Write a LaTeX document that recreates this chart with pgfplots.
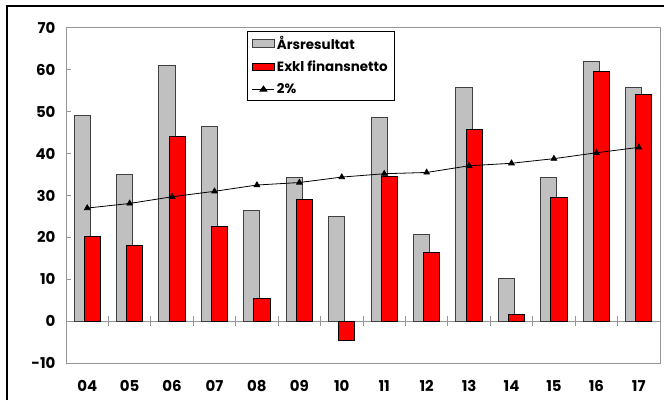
\documentclass[border=0pt]{standalone}
\usepackage{fontspec}
\setmainfont{Poppins}
\usepackage{pgfplots}
\pgfplotsset{compat=1.18}
\definecolor{bargray}{RGB}{192,192,192}
\definecolor{axgray}{RGB}{150,150,150}
\begin{document}
\begin{tikzpicture}[x=1bp,y=1bp]
\useasboundingbox (0,0) rectangle (664,400);
\draw[black,line width=1.5bp] (7,0) -- (7,394) -- (664,394);
\begin{axis}[
  at={(66bp,37bp)}, anchor=south west,
  scale only axis, width=594bp, height=335bp,
  xmin=-0.5, xmax=13.5, ymin=-10, ymax=70,
  ytick={-10,0,...,70},
  xtick={0,...,13},
  xticklabels={04,05,06,07,08,09,10,11,12,13,14,15,16,17},
  axis line style={axgray, line width=1bp},
  tick style={axgray, line width=1bp},
  ytick pos=left, xtick pos=bottom,
  major tick length=5bp,
  y tick label style={font=\fontsize{15}{17}\selectfont\bfseries, xshift=-7bp},
  x tick label style={font=\fontsize{15}{17}\selectfont\bfseries, yshift=-14bp},
  x tick style={draw=none},
  /pgf/number format/assume math mode=true,
  legend style={at={(0.304,0.991)}, anchor=north west, draw=black, line width=0.8bp,
    font=\fontsize{13.5}{15}\selectfont\bfseries, row sep=8bp, inner xsep=5bp, inner ysep=4bp,
    nodes={inner xsep=2bp, inner ysep=1bp}},
  legend cell align=left,
  clip=false,
]
\draw[axgray, line width=1bp] (axis cs:-0.5,0) -- (axis cs:13.5,0);
\pgfplotsinvokeforeach{0.5,1.5,2.5,3.5,4.5,5.5,6.5,7.5,8.5,9.5,10.5,11.5,12.5}{
  \draw[axgray, line width=1bp] ([yshift=-5bp]axis cs:#1,0) -- ([yshift=5bp]axis cs:#1,0);
}
\addplot[ybar, bar width=0.38, bar shift=-0.12, fill=bargray, draw=black!75, line width=1bp,
  legend image code/.code={\draw[fill=bargray, draw=black!75, line width=1bp] (0bp,-3.5bp) rectangle (22bp,4bp);}]
  coordinates {(0,49.2) (1,35) (2,61) (3,46.5) (4,26.4) (5,34.3) (6,25) (7,48.6) (8,20.7) (9,55.7) (10,10.2) (11,34.4) (12,62.1) (13,55.7)};
\addlegendentry{Årsresultat}
\addplot[ybar, bar width=0.38, bar shift=0.12, fill=red, draw=black, line width=1bp,
  legend image code/.code={\draw[fill=red, draw=black, line width=1bp] (0bp,-3.5bp) rectangle (22bp,4bp);}]
  coordinates {(0,20.2) (1,18) (2,44) (3,22.5) (4,5.3) (5,29) (6,-4.7) (7,34.5) (8,16.3) (9,45.7) (10,1.5) (11,29.5) (12,59.6) (13,54.1)};
\addlegendentry{Exkl finansnetto}
\addplot[sharp plot, black, line width=0.8bp, mark=triangle*, mark size=3.2bp,
  legend image code/.code={\draw[black, line width=0.8bp] (0bp,0bp) -- (22bp,0bp); \fill[black] (11bp,3.2bp) -- (7.5bp,-2bp) -- (14.5bp,-2bp) -- cycle;}]
  coordinates {(0,27) (1,28.1) (2,29.7) (3,31) (4,32.5) (5,33.1) (6,34.4) (7,35.2) (8,35.5) (9,37.1) (10,37.7) (11,38.8) (12,40.2) (13,41.5)};
\addlegendentry{2\%}
\end{axis}
\end{tikzpicture}
\end{document}
